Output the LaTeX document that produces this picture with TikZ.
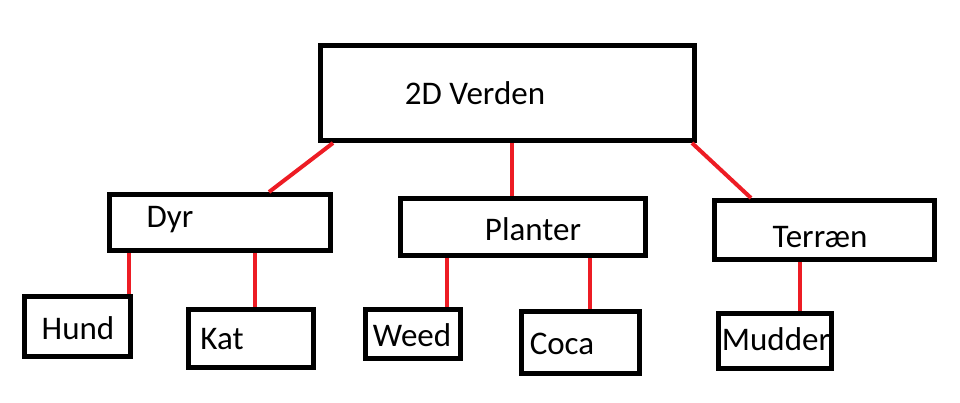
\documentclass[tikz,border=0pt]{standalone}
\usepackage{fontspec}
\setmainfont{Carlito}
\definecolor{paintred}{RGB}{237,28,36}

\begin{document}
\begin{tikzpicture}[x = 1pt, y = -1pt]
    \tikzstyle{box} = [draw, line width = 5pt, inner sep = 0pt];
    \tikzstyle{word} = [anchor = base, inner sep = 0pt, font = \fontsize{33}{36}\selectfont];
    \tikzstyle{link} = [draw = paintred, line width = 4pt];
    \useasboundingbox (0,0) rectangle (960,402);
    % boxes:
    \node[box, minimum width = 374pt, minimum height = 95pt] (verden) at (507.5,93){};
    \node[box, minimum width = 221pt, minimum height = 56pt] (dyr) at (220,222.5){};
    \node[box, minimum width = 245pt, minimum height = 57pt] (planter) at (523,227){};
    \node[box, minimum width = 220pt, minimum height = 59pt] (terraen) at (824.5,230){};
    \node[box, minimum width = 106pt, minimum height = 60pt] (hund) at (77.5,326.5){};
    \node[box, minimum width = 125pt, minimum height = 58pt] (kat) at (251,338.5){};
    \node[box, minimum width = 95pt, minimum height = 49pt] (weed) at (413,334){};
    \node[box, minimum width = 118pt, minimum height = 62pt] (coca) at (580.5,342.5){};
    \node[box, minimum width = 113pt, minimum height = 55pt] (mudder) at (775,341){};
    % texts:
    \node[word] (tverden) at (475,104){2D Verden};
    \node[word] (tdyr) at (170,227){Dyr};
    \node[word] (tplanter) at (533,240){Planter};
    \node[word] (tterraen) at (820,247){Terræn};
    \node[word] (thund) at (78,339){Hund};
    \node[word] (tkat) at (222,349){Kat};
    \node[word] (tweed) at (412,346){Weed};
    \node[word] (tcoca) at (562,354){Coca};
    \node[word] (tmudder) at (776,350){Mudder};
    % lines:
    \draw[link] ([xshift = 15pt]verden.south west) -- ([xshift = 49pt]dyr.north);
    \draw[link] ([xshift = 4.5pt]verden.south) -- ([xshift = -11pt]planter.north);
    \draw[link] ([xshift = -5pt]verden.south east) -- ([xshift = -73.5pt]terraen.north);
    \draw[link] ([xshift = 22pt]dyr.south west) -- ([xshift = -4pt]hund.north east);
    \draw[link] ([xshift = 35pt]dyr.south) -- ([xshift = 4pt]kat.north);
    \draw[link] ([xshift = 49pt]planter.south west) -- ([xshift = 34pt]weed.north);
    \draw[link] ([xshift = 67pt]planter.south) -- ([xshift = 9.5pt]coca.north);
    \draw[link] ([xshift = -24.5pt]terraen.south) -- ([xshift = 25pt]mudder.north);
\end{tikzpicture}
\end{document}
